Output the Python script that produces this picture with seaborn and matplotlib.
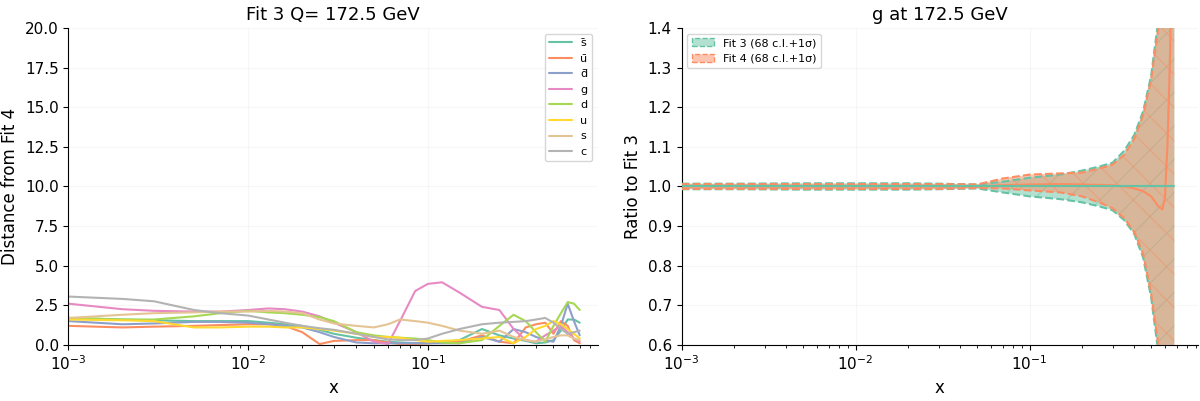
"""
plot.py — distance and ratio plots for Fit 3 vs Fit 4 at Q = 172.5 GeV.
"""

import matplotlib
matplotlib.use("Agg")
import matplotlib.pyplot as plt
import numpy as np
import pandas as pd
import seaborn as sns
from matplotlib.patches import Patch

# ── Left panel: distances ─────────────────────────────────────────────────────

X_DIST = [1e-3, 2e-3, 3e-3, 5e-3, 7e-3, 1e-2, 1.3e-2, 1.6e-2, 2e-2, 2.5e-2,
          3e-2, 4e-2, 5e-2, 6e-2, 7e-2, 8.5e-2, 0.1, 0.12, 0.15, 0.2, 0.25,
          0.3, 0.35, 0.4, 0.45, 0.5, 0.55, 0.6, 0.65, 0.7]

FLAVOURS = ["s\u0304", "u\u0304", "d\u0304", "g", "d", "u", "s", "c"]

DIST_SBAR = [1.7, 1.6, 1.55, 1.5, 1.5, 1.5, 1.4, 1.3, 1.2, 0.95,
             0.7, 0.45, 0.3, 0.2, 0.15, 0.1, 0.1, 0.15, 0.3, 1.0, 0.6,
             0.4, 0.25, 0.1, 0.15, 0.3, 0.9, 1.6, 1.6, 1.4]
DIST_UBAR = [1.2, 1.1, 1.15, 1.2, 1.25, 1.3, 1.3, 1.2, 0.8, 0.05,
             0.25, 0.3, 0.3, 0.15, 0.05, 0.05, 0.1, 0.15, 0.2, 0.6, 0.2,
             0.1, 1.1, 1.3, 1.4, 0.7, 1.5, 1.2, 0.3, 0.1]
DIST_DBAR = [1.5, 1.3, 1.35, 1.45, 1.45, 1.4, 1.3, 1.2, 1.1, 0.8,
             0.5, 0.15, 0.1, 0.1, 0.1, 0.1, 0.1, 0.1, 0.1, 0.5, 0.2,
             1.0, 0.8, 0.5, 0.3, 0.2, 1.2, 2.6, 1.5, 0.6]
DIST_G = [2.6, 2.25, 2.15, 2.1, 2.1, 2.2, 2.3, 2.25, 2.1, 1.8,
          1.4, 0.8, 0.2, 0.05, 1.5, 3.4, 3.85, 3.95, 3.3, 2.4, 2.2,
          1.0, 0.3, 0.2, 0.6, 0.9, 1.2, 0.8, 0.4, 0.2]
DIST_D = [1.7, 1.6, 1.6, 1.8, 2.0, 2.15, 2.05, 2.0, 1.9, 1.75,
          1.5, 0.8, 0.6, 0.5, 0.45, 0.4, 0.3, 0.15, 0.1, 0.3, 1.2,
          1.9, 1.5, 0.8, 0.2, 1.2, 2.0, 2.7, 2.6, 2.2]
DIST_U = [1.6, 1.55, 1.5, 1.1, 1.1, 1.15, 1.15, 1.1, 1.1, 1.0,
          0.9, 0.7, 0.5, 0.5, 0.45, 0.3, 0.2, 0.25, 0.3, 0.4, 0.5,
          0.1, 0.5, 1.0, 1.2, 1.5, 1.3, 1.0, 0.7, 0.4]
DIST_S = [1.7, 1.9, 2.0, 2.05, 2.1, 2.1, 2.15, 2.1, 2.0, 1.6,
          1.35, 1.2, 1.1, 1.3, 1.6, 1.5, 1.4, 1.2, 0.9, 0.7, 0.9,
          0.5, 0.3, 0.2, 0.35, 0.5, 0.6, 0.6, 0.4, 0.3]
DIST_C = [3.05, 2.9, 2.75, 2.2, 2.0, 1.85, 1.6, 1.4, 1.2, 1.05,
          0.95, 0.7, 0.5, 0.35, 0.3, 0.3, 0.4, 0.7, 1.0, 1.3, 1.4,
          1.45, 1.5, 1.6, 1.7, 1.4, 1.0, 0.7, 0.8, 0.9]

DIST_SERIES = [DIST_SBAR, DIST_UBAR, DIST_DBAR, DIST_G,
               DIST_D, DIST_U, DIST_S, DIST_C]

# ── Right panel: gluon ratio to Fit 3 ─────────────────────────────────────────

X_RATIO = [1e-3, 2e-3, 5e-3, 1e-2, 2e-2, 3e-2, 5e-2, 7e-2, 0.1, 0.15, 0.2,
           0.25, 0.3, 0.35, 0.4, 0.45, 0.5, 0.55, 0.58, 0.6, 0.62, 0.64,
           0.66, 0.68]

FIT3_CENTRAL = [1.0] * 24
FIT3_UPPER = [1.007, 1.007, 1.008, 1.008, 1.008, 1.007, 1.005, 1.012, 1.022,
              1.03, 1.04, 1.05, 1.06, 1.09, 1.13, 1.19, 1.28, 1.42, 1.55,
              1.7, 1.9, 2.2, 2.5, 3.0]
FIT3_LOWER = [0.993, 0.993, 0.992, 0.992, 0.992, 0.993, 0.995, 0.985, 0.975,
              0.968, 0.96, 0.95, 0.94, 0.915, 0.88, 0.82, 0.72, 0.58, 0.45,
              0.3, 0.1, -0.2, -0.5, -1.0]

FIT4_CENTRAL = [1.0, 1.0, 1.0, 1.0, 1.0, 1.0, 1.0, 1.003, 1.005, 1.006,
                1.005, 1.004, 1.003, 1.0, 0.995, 0.988, 0.975, 0.95, 0.942,
                0.97, 1.1, 1.3, 1.6, 2.0]
FIT4_UPPER = [1.006, 1.006, 1.006, 1.006, 1.006, 1.006, 1.005, 1.02, 1.03,
              1.033, 1.035, 1.045, 1.055, 1.08, 1.12, 1.18, 1.27, 1.40, 1.6,
              1.9, 2.5, 3.0, 3.0, 3.0]
FIT4_LOWER = [0.994, 0.994, 0.994, 0.994, 0.994, 0.994, 0.996, 0.995, 0.99,
              0.985, 0.975, 0.96, 0.945, 0.92, 0.885, 0.83, 0.73, 0.6, 0.45,
              0.2, -1.0, -1.0, -1.0, -1.0]

PALETTE = sns.color_palette("Set2", 8)
C_FIT3, C_FIT4 = PALETTE[0], PALETTE[1]


def _style_log_axis(ax):
    ax.set_xscale("log")
    ax.grid(True, which="major", alpha=0.15, linewidth=0.8)
    ax.tick_params(axis="both", labelsize=11)
    sns.despine(ax=ax)


def main() -> None:
    sns.set_style("ticks", {
        "axes.edgecolor": "black",
        "xtick.color": "black",
        "ytick.color": "black",
        "text.color": "black",
        "axes.labelcolor": "black",
    })
    plt.rcParams["font.family"] = ["DejaVu Sans"]
    plt.rcParams["hatch.linewidth"] = 0.8

    fig = plt.figure(figsize=(12, 4.01), dpi=100)
    ax1 = fig.add_axes([0.057, 0.14, 0.441, 0.79])
    ax2 = fig.add_axes([0.568, 0.14, 0.430, 0.79])

    # ── Distances ────────────────────────────────────────────────────────────
    rows = []
    for name, vals in zip(FLAVOURS, DIST_SERIES):
        for x, v in zip(X_DIST, vals):
            rows.append({"x": x, "dist": v, "flavour": name})
    df = pd.DataFrame(rows)
    sns.lineplot(data=df, x="x", y="dist", hue="flavour", hue_order=FLAVOURS,
                 palette=PALETTE, linewidth=1.5, ax=ax1)
    _style_log_axis(ax1)
    ax1.set_xlim(1e-3, 0.88)
    ax1.set_ylim(0, 20)
    ax1.set_yticks(np.arange(0, 20.1, 2.5))
    ax1.set_title("Fit 3 Q= 172.5 GeV", fontsize=13)
    ax1.set_xlabel("x", fontsize=12)
    ax1.set_ylabel("Distance from Fit 4", fontsize=12)
    ax1.legend(loc="upper right", fontsize=8, title=None, frameon=True)

    # ── Ratio ────────────────────────────────────────────────────────────────
    x = np.array(X_RATIO)
    ax2.fill_between(x, FIT3_LOWER, FIT3_UPPER, color=C_FIT3, alpha=0.5,
                     hatch="/", edgecolor=C_FIT3, linewidth=0, zorder=2)
    ax2.fill_between(x, FIT4_LOWER, FIT4_UPPER, color=C_FIT4, alpha=0.5,
                     hatch="\\", edgecolor=C_FIT4, linewidth=0, zorder=3)
    for up, lo, col in [(FIT3_UPPER, FIT3_LOWER, C_FIT3),
                        (FIT4_UPPER, FIT4_LOWER, C_FIT4)]:
        sns.lineplot(x=x, y=up, color=col, linestyle="--", linewidth=1.5,
                     ax=ax2, zorder=4)
        sns.lineplot(x=x, y=lo, color=col, linestyle="--", linewidth=1.5,
                     ax=ax2, zorder=4)
    sns.lineplot(x=x, y=FIT4_CENTRAL, color=C_FIT4, linewidth=1.5, ax=ax2,
                 zorder=5)
    sns.lineplot(x=x, y=FIT3_CENTRAL, color=C_FIT3, linewidth=1.5, ax=ax2,
                 zorder=5)
    _style_log_axis(ax2)
    ax2.set_xlim(1e-3, 0.925)
    ax2.set_ylim(0.6, 1.4)
    ax2.set_yticks(np.arange(0.6, 1.41, 0.1))
    ax2.set_title("g at 172.5 GeV", fontsize=13)
    ax2.set_xlabel("x", fontsize=12)
    ax2.set_ylabel("Ratio to Fit 3", fontsize=12)
    handles = [
        Patch(facecolor=(*C_FIT3, 0.5), edgecolor=C_FIT3, linestyle="--",
              label="Fit 3 (68 c.l.+1σ)"),
        Patch(facecolor=(*C_FIT4, 0.5), edgecolor=C_FIT4, linestyle="--",
              label="Fit 4 (68 c.l.+1σ)"),
    ]
    ax2.legend(handles=handles, loc="upper left", fontsize=8, frameon=True)

    fig.savefig("out.png", dpi=100)
    plt.close(fig)


if __name__ == "__main__":
    main()
